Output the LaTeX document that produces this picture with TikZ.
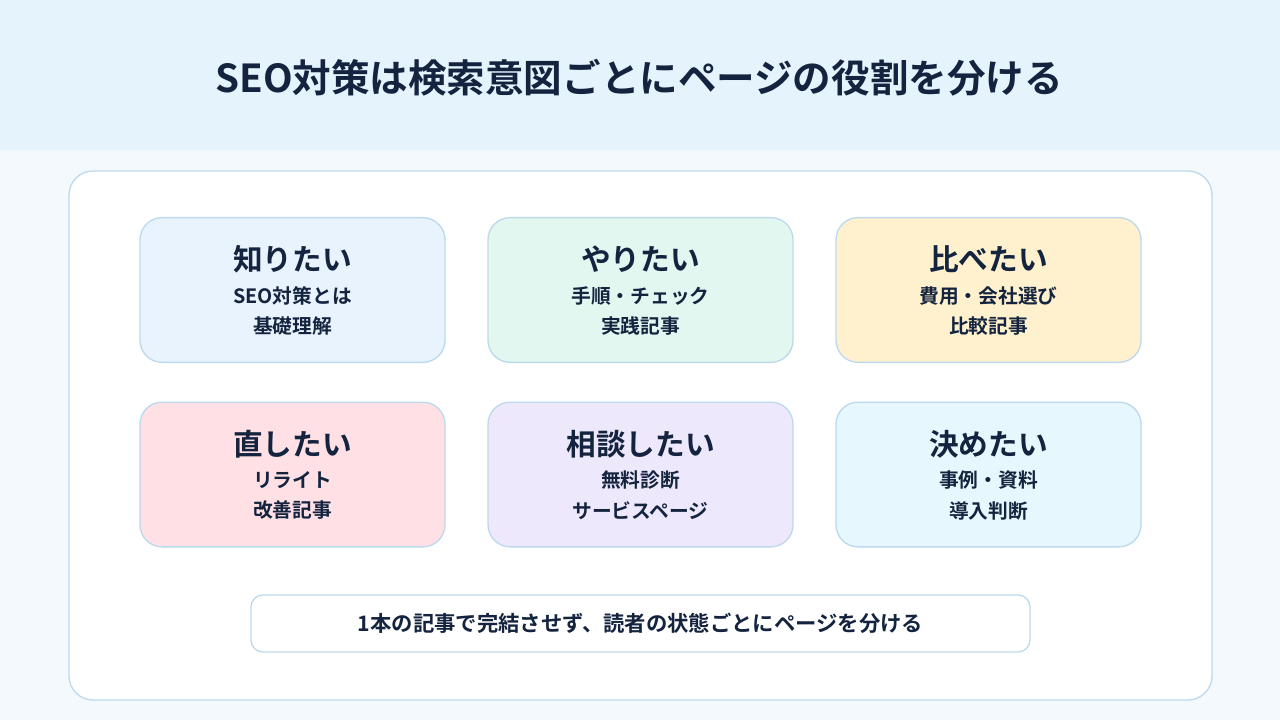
\documentclass[tikz,border=0pt]{standalone}
\usepackage{fontspec}
\setmainfont{Noto Sans CJK JP}[BoldFont={Noto Sans CJK JP Bold}]
\usepackage{xcolor}
\definecolor{ink}{HTML}{14243F}
\definecolor{bandblue}{HTML}{E5F3FD}
\definecolor{pagebg}{HTML}{F4F9FE}
\definecolor{edge}{HTML}{BCD9EE}
\definecolor{knowfill}{HTML}{E8F3FD}
\definecolor{dofill}{HTML}{E3F7F1}
\definecolor{comparefill}{HTML}{FFF1CE}
\definecolor{fixfill}{HTML}{FFE1E5}
\definecolor{askfill}{HTML}{EEE8FD}
\definecolor{decidefill}{HTML}{E6F8FE}

\begin{document}
\begin{tikzpicture}[x=0.75pt, y=-0.75pt,
  card/.style={draw=edge, line width=1pt, rounded corners=16.5pt,
    minimum width=228.75pt, minimum height=108.5pt, inner sep=0pt},
  head/.style={text=ink, font=\fontsize{22.25}{25}\selectfont\bfseries, inner sep=0pt},
  sub/.style={text=ink, font=\fontsize{14.8}{17}\selectfont\bfseries, inner sep=0pt}]
  \useasboundingbox (0, 0) rectangle (1280, 720);
  \fill[pagebg] (0, 150) rectangle (1280, 720);
  \fill[bandblue] (0, 0) rectangle (1280, 150);
  \node[text=ink, font=\fontsize{28.9}{32}\selectfont\bfseries] (title) at (639, 78)
    {SEO対策は検索意図ごとにページの役割を分ける};
  \draw[edge, fill=white, line width=1pt, rounded corners=18pt] (69, 171) rectangle (1212, 700);

  \foreach \n/\x/\y/\c/\a/\b/\d in {
      know/292.5/290/knowfill/知りたい/SEO対策とは/基礎理解,
      do/640.5/290/dofill/やりたい/手順・チェック/実践記事,
      compare/988.5/290/comparefill/比べたい/費用・会社選び/比較記事,
      fix/292.5/474.5/fixfill/直したい/リライト/改善記事,
      ask/640.5/474.5/askfill/相談したい/無料診断/サービスページ,
      decide/988.5/474.5/decidefill/決めたい/事例・資料/導入判断} {
    \node[card, fill=\c] (\n) at (\x, \y) {};
    \node[head] (\n-head) at ([yshift=23pt]\n.center) {\a};
    \node[sub] (\n-sub) at ([yshift=-4.5pt]\n.center) {\b};
    \node[sub] (\n-page) at ([yshift=-27pt]\n.center) {\d};
  }

  \node[draw=edge, fill=white, line width=1pt, rounded corners=9pt,
    minimum width=584.25pt, minimum height=42.75pt, text=ink,
    font=\fontsize{16}{18}\selectfont\bfseries] (note) at (640.5, 623.5)
    {1本の記事で完結させず、読者の状態ごとにページを分ける};
\end{tikzpicture}
\end{document}
